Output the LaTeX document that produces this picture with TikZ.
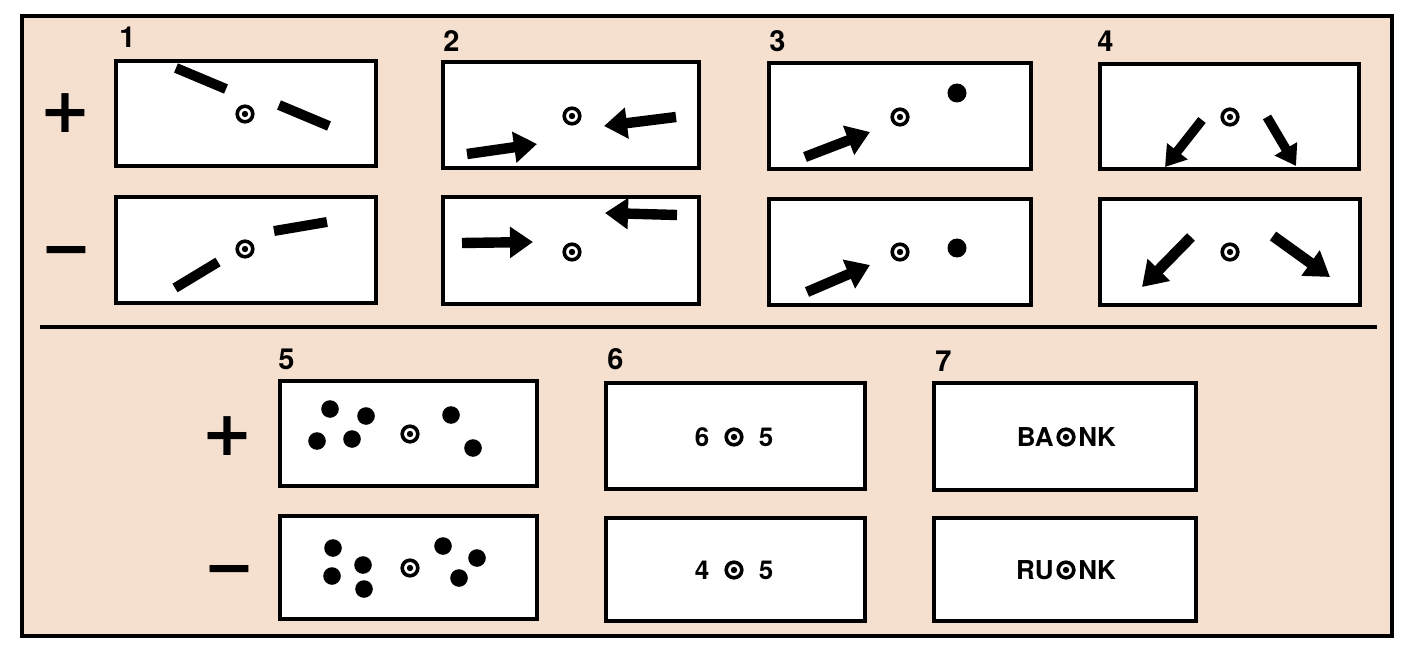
\documentclass[tikz,border=0pt]{standalone}
\usepackage{fontspec}
\setmainfont{TeX Gyre Heros}
\newfontfamily\symfont{DejaVu Sans}
\usetikzlibrary{arrows.meta}
\definecolor{peach}{RGB}{245,223,207}
\begin{document}
\begin{tikzpicture}[x=0.5pt,y=-0.5pt,
  frame/.style={draw=black,line width=1.7pt},
  panel/.style={draw=black,fill=white,line width=1.6pt},
  bull/.style={circle,draw=black,line width=1.8pt,fill=white,inner sep=0pt,minimum size=7.8pt,
    path picture={\fill[black] (path picture bounding box.center) circle (1.6pt);}},
  dot/.style={circle,fill=black,inner sep=0pt,minimum size=8.8pt},
  bigdot/.style={circle,fill=black,inner sep=0pt,minimum size=9.5pt},
  bar/.style={line width=5pt,line cap=butt},
  arrA/.style={line width=5.2pt,-{Triangle[length=11.5pt,width=15pt]}},
  arrB/.style={line width=4.7pt,-{Triangle[length=10pt,width=12.5pt]}},
  arrC/.style={line width=5.4pt,-{Triangle[length=12pt,width=15pt]}},
  num/.style={font=\bfseries\fontsize{14.5}{14.5}\selectfont,inner sep=0pt,anchor=base west},
  sign/.style={font=\symfont\bfseries\fontsize{31}{31}\selectfont,inner sep=0pt},
  word/.style={font=\bfseries\fontsize{13}{13}\selectfont,inner sep=0pt}
]
\useasboundingbox (0,0) rectangle (1412,652);
\fill[white] (0,0) rectangle (1412,652);
\fill[peach] (22,16) rectangle (1392,636);
\draw[frame] (22,16) rectangle (1392,636);
\draw[frame] (40,327) -- (1377,327);

% labels
\node[num] (n1) at (119,48) {1};
\node[num] (n2) at (443,52) {2};
\node[num] (n3) at (769,52) {3};
\node[num] (n4) at (1097,52) {4};
\node[num] (n5) at (278,369) {5};
\node[num] (n6) at (607,369) {6};
\node[num] (n7) at (935,371) {7};

% signs
\node[sign] (plusA) at (65,113) {+};
\node[sign] (minusA) at (66,258) {−};
\node[sign] (plusB) at (227,436) {+};
\node[sign] (minusB) at (229,577) {−};

% panels
\draw[panel] (116,61) rectangle (376,166);
\draw[panel] (116,197) rectangle (376,303);
\draw[panel] (443,62) rectangle (699,168);
\draw[panel] (443,197) rectangle (699,304);
\draw[panel] (769,63) rectangle (1031,169);
\draw[panel] (769,199) rectangle (1031,305);
\draw[panel] (1100,64) rectangle (1359,169);
\draw[panel] (1100,199) rectangle (1360,305);
\draw[panel] (280,381) rectangle (537,486);
\draw[panel] (280,516) rectangle (537,619);
\draw[panel] (606,383) rectangle (865,489);
\draw[panel] (606,518) rectangle (865,621);
\draw[panel] (934,383) rectangle (1196,490);
\draw[panel] (934,518) rectangle (1196,621);

% panel 1
\node[bull] (b1a) at (245,114) {};
\draw[bar] (176,68) -- (226,89);
\draw[bar] (279,105) -- (329,126);
\node[bull] (b1b) at (245,249) {};
\draw[bar] (175,288) -- (218,262);
\draw[bar] (274,231) -- (327,222);

% panel 2
\node[bull] (b2a) at (572,116) {};
\draw[arrA] (467,154) -- (537,144);
\draw[arrA] (676,117) -- (604,126);
\node[bull] (b2b) at (572,252) {};
\draw[arrA] (462,243) -- (533,242);
\draw[arrA] (677,215) -- (605,213);

% panel 3
\node[bull] (b3a) at (900,117) {};
\node[bigdot] (d3a) at (957,93) {};
\draw[arrA] (805,157) -- (870,132);
\node[bull] (b3b) at (900,252) {};
\node[bigdot] (d3b) at (957,248) {};
\draw[arrA] (807,292) -- (870,265);

% panel 4
\node[bull] (b4a) at (1230,117) {};
\draw[arrB] (1202,120) -- (1165,167);
\draw[arrB] (1267,117) -- (1296,166);
\node[bull] (b4b) at (1230,252) {};
\draw[arrC] (1191,237) -- (1142,287);
\draw[arrC] (1273,236) -- (1330,277);

% panel 5
\node[bull] (b5a) at (410,434) {};
\node[dot] (d5a1) at (330,409) {};
\node[dot] (d5a2) at (366,416) {};
\node[dot] (d5a3) at (317,441) {};
\node[dot] (d5a4) at (352,439) {};
\node[dot] (d5a5) at (451,415) {};
\node[dot] (d5a6) at (473,448) {};
\node[bull] (b5b) at (410,568) {};
\node[dot] (d5b1) at (333,548) {};
\node[dot] (d5b2) at (332,576) {};
\node[dot] (d5b3) at (363,565) {};
\node[dot] (d5b4) at (364,589) {};
\node[dot] (d5b5) at (443,546) {};
\node[dot] (d5b6) at (477,558) {};
\node[dot] (d5b7) at (459,578) {};

% panel 6
\node[bull] (b6a) at (734,437) {};
\node[word] (t6a1) at (702,437) {6};
\node[word] (t6a2) at (766,437) {5};
\node[bull] (b6b) at (734,570) {};
\node[word] (t6b1) at (702,570) {4};
\node[word] (t6b2) at (766,570) {5};

% panel 7
\node[bull] (b7a) at (1066,437) {};
\node[word,anchor=east] (t7a1) at (1054,437) {BA};
\node[word,anchor=west] (t7a2) at (1078,437) {NK};
\node[bull] (b7b) at (1066,570) {};
\node[word,anchor=east] (t7b1) at (1054,570) {RU};
\node[word,anchor=west] (t7b2) at (1078,570) {NK};
\end{tikzpicture}
\end{document}
